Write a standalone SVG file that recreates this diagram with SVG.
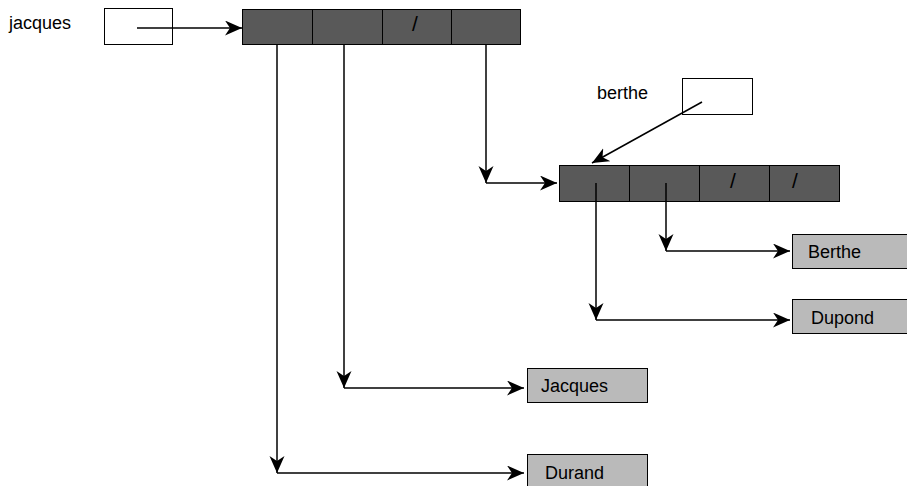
<svg xmlns="http://www.w3.org/2000/svg" width="907" height="486" viewBox="0 0 907 486">
  <style>
    .lbl { font-family: "Liberation Sans", Arial, sans-serif; font-size: 18px; fill: #000; }
    .slash { font-family: "Liberation Sans", Arial, sans-serif; font-size: 21px; fill: #000; text-anchor: middle; }
    .ptr { fill: #fff; stroke: #000; stroke-width: 1; }
    .cell { fill: #595959; stroke: #000; stroke-width: 1; }
    .val { fill: #bababa; stroke: #000; stroke-width: 1; }
    .conn line { stroke: #000; stroke-width: 1.5; fill: none; marker-end: url(#arr); }
  </style>
  <defs>
    <marker id="arr" markerUnits="userSpaceOnUse" markerWidth="18" markerHeight="16" refX="17" refY="7.5" orient="auto">
      <path d="M0,0 L17,7.5 L0,15 L5,7.5 z" fill="#000"/>
    </marker>
  </defs>

  <!-- variable jacques -->
  <g id="var-jacques">
    <text class="lbl" x="9" y="29">jacques</text>
    <rect class="ptr" x="104.5" y="8.5" width="68" height="36"/>
  </g>

  <!-- record pointed to by jacques -->
  <g id="rec-jacques">
    <rect class="cell" x="242.5" y="9.5" width="70" height="35"/>
    <rect class="cell" x="312.5" y="9.5" width="70" height="35"/>
    <rect class="cell" x="382.5" y="9.5" width="69" height="35"/>
    <rect class="cell" x="451.5" y="9.5" width="69" height="35"/>
    <text class="slash" x="415" y="31">/</text>
  </g>

  <!-- variable berthe -->
  <g id="var-berthe">
    <text class="lbl" x="597" y="99">berthe</text>
    <rect class="ptr" x="682.5" y="78.5" width="70" height="36"/>
  </g>

  <!-- record pointed to by berthe -->
  <g id="rec-berthe">
    <rect class="cell" x="559.5" y="165.5" width="70" height="36"/>
    <rect class="cell" x="629.5" y="165.5" width="70" height="36"/>
    <rect class="cell" x="699.5" y="165.5" width="70" height="36"/>
    <rect class="cell" x="769.5" y="165.5" width="70" height="36"/>
    <text class="slash" x="733" y="188">/</text>
    <text class="slash" x="795" y="188">/</text>
  </g>

  <!-- string values -->
  <g id="str-berthe">
    <rect class="val" x="792.5" y="234.5" width="120" height="34"/>
    <text class="lbl" x="808" y="258">Berthe</text>
  </g>
  <g id="str-dupond">
    <rect class="val" x="792.5" y="299.5" width="120" height="34"/>
    <text class="lbl" x="811" y="324">Dupond</text>
  </g>
  <g id="str-jacques">
    <rect class="val" x="527.5" y="368.5" width="120" height="34"/>
    <text class="lbl" x="541" y="392">Jacques</text>
  </g>
  <g id="str-durand">
    <rect class="val" x="527.5" y="454.5" width="120" height="34"/>
    <text class="lbl" x="545" y="479">Durand</text>
  </g>

  <!-- pointers -->
  <g id="connectors" class="conn">
    <line x1="137" y1="28" x2="242" y2="28"/>
    <line x1="277" y1="45" x2="277" y2="473"/>
    <line x1="277" y1="473" x2="524" y2="473"/>
    <line x1="344" y1="45" x2="344" y2="388"/>
    <line x1="344" y1="388" x2="524" y2="388"/>
    <line x1="486" y1="45" x2="486" y2="183"/>
    <line x1="486" y1="183" x2="557" y2="183"/>
    <line x1="702" y1="102" x2="592" y2="163"/>
    <line x1="596" y1="183" x2="596" y2="320"/>
    <line x1="596" y1="320" x2="790" y2="320"/>
    <line x1="666" y1="183" x2="666" y2="251"/>
    <line x1="666" y1="251" x2="790" y2="251"/>
  </g>
</svg>
